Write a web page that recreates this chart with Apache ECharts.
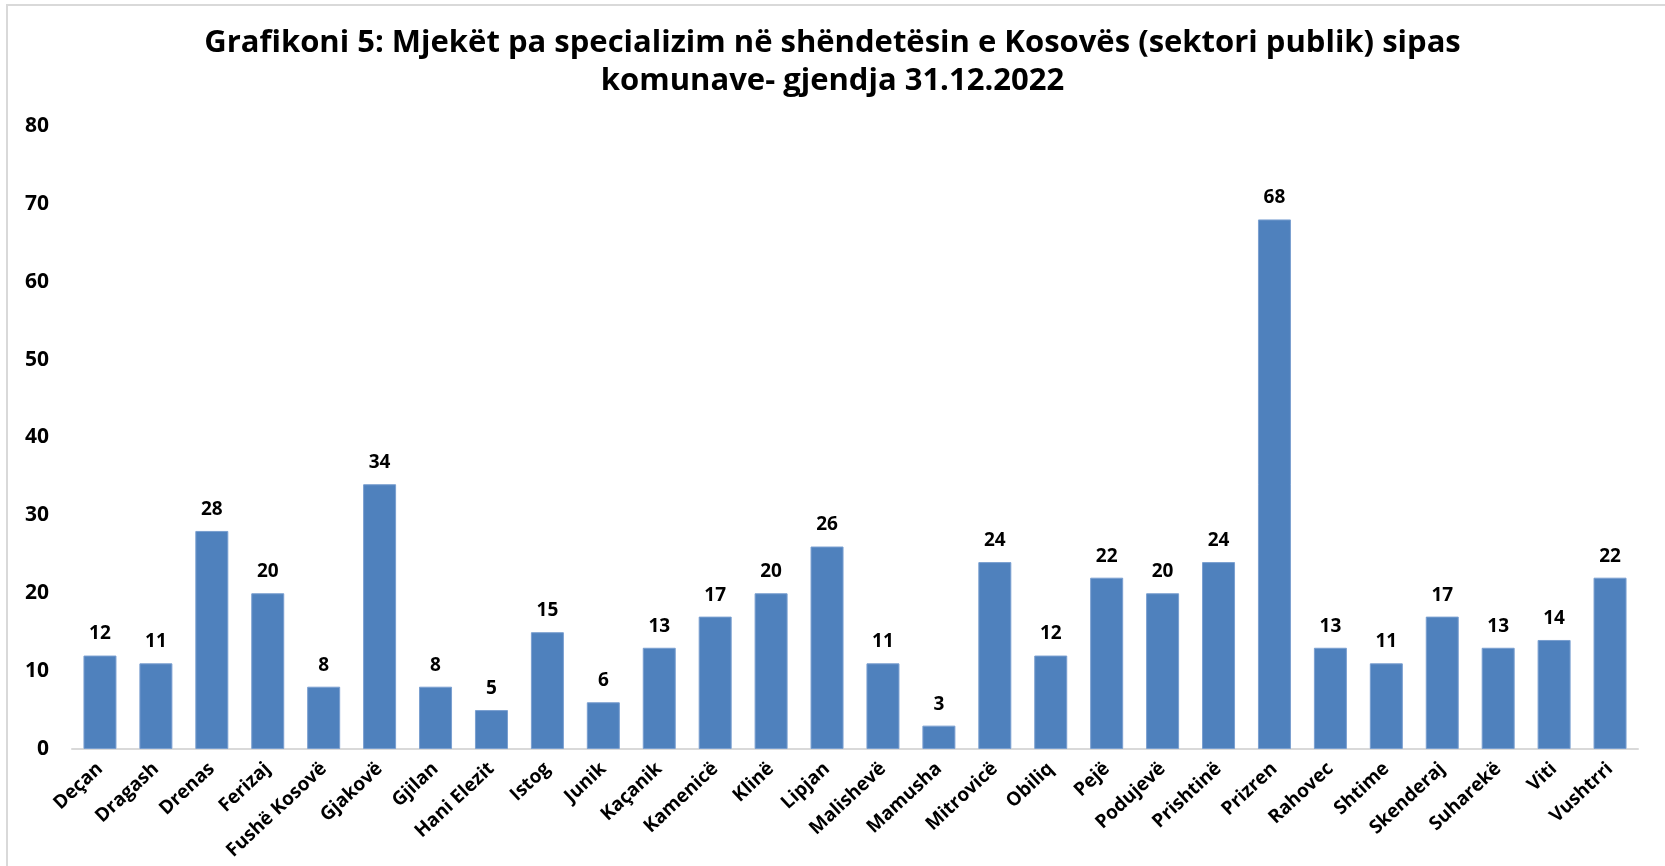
<!DOCTYPE html>
<html>
<head>
<meta charset="utf-8">
<script src="https://cdn.jsdelivr.net/npm/echarts@6/dist/echarts.min.js"></script>
<style>
  html, body { margin: 0; padding: 0; background: #fff; }
  #chart { width: 1665px; height: 866px; }
</style>
</head>
<body>
<div id="chart"></div>
<script>
// komunat
let categories = ['Deçan', 'Dragash', 'Drenas', 'Ferizaj', 'Fushë Kosovë', 'Gjakovë', 'Gjilan', 'Hani Elezit',
    'Istog', 'Junik', 'Kaçanik', 'Kamenicë', 'Klinë', 'Lipjan', 'Malishevë', 'Mamusha', 'Mitrovicë', 'Obiliq',
    'Pejë', 'Podujevë', 'Prishtinë', 'Prizren', 'Rahovec', 'Shtime', 'Skenderaj', 'Suharekë', 'Viti', 'Vushtrri'];
// mjeket pa specializim
let values = [12, 11, 28, 20, 8, 34, 8, 5, 15, 6, 13, 17, 20, 26, 11, 3, 24, 12, 22, 20, 24, 68, 13, 11, 17, 13, 14, 22];
let yTicks = [0, 10, 20, 30, 40, 50, 60, 70, 80];

let font = '"Open Sans", sans-serif';
let myChart = echarts.init(document.getElementById('chart'));

let option = {
    animation: false,
    title: {
        text: 'Grafikoni 5: Mjekët pa specializim në shëndetësin e Kosovës (sektori publik) sipas\nkomunave- gjendja 31.12.2022',
        left: 'center',
        top: 19,
        textStyle: {
            fontFamily: font,
            fontWeight: 'bold',
            fontSize: 31,
            lineHeight: 38,
            color: '#000'
        }
    },
    graphic: [{
        type: 'rect',
        shape: { x: 7, y: 5, width: 1660, height: 870 },
        style: { fill: 'none', stroke: '#d9d9d9', lineWidth: 2 },
        silent: true
    }],
    grid: { left: 72, right: 27, top: 126, bottom: 117 },
    xAxis: {
        type: 'category',
        data: categories,
        axisTick: { show: false },
        axisLine: { lineStyle: { color: '#d9d9d9', width: 2 } },
        axisLabel: {
            rotate: 43,
            interval: 0,
            margin: 17,
            fontFamily: font,
            fontWeight: 'bold',
            fontSize: 19,
            color: '#000'
        }
    },
    yAxis: {
        type: 'value',
        min: yTicks[0],
        max: yTicks[yTicks.length - 1],
        interval: 10,
        splitLine: { show: false },
        axisLine: { show: false },
        axisLabel: {
            margin: 23,
            fontFamily: font,
            fontWeight: 'bold',
            fontSize: 21,
            color: '#000'
        }
    },
    series: [{
        type: 'bar',
        data: values,
        barCategoryGap: '41%',
        itemStyle: { color: '#4f81bd', borderColor: '#7a9fd0', borderWidth: 1 },
        label: {
            show: true,
            position: 'top',
            distance: 12,
            fontFamily: font,
            fontWeight: 'bold',
            fontSize: 19,
            color: '#000'
        }
    }]
};

myChart.setOption(option);
</script>
</body>
</html>
